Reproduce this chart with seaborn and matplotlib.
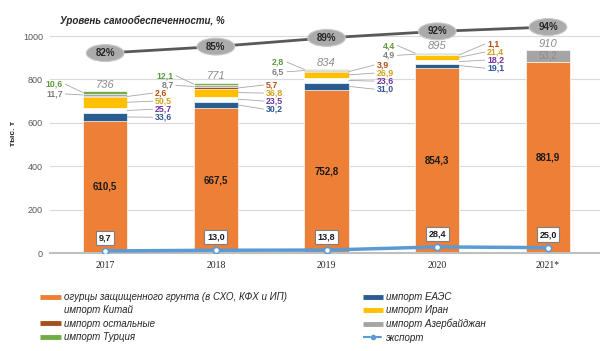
import numpy as np
import matplotlib
matplotlib.use("Agg")
import matplotlib.pyplot as plt
import seaborn as sns
from matplotlib.patches import Ellipse
from matplotlib.lines import Line2D

# ДАННЫЕ, тыс. т
years = ["2017", "2018", "2019", "2020", "2021*"]
ogurtsy = [610.5, 667.5, 752.8, 854.3, 881.9]
imp_eaes = [33.6, 30.2, 31.0, 19.1, 0]
imp_china = [25.7, 23.5, 23.6, 18.2, 0]
imp_iran = [50.5, 36.8, 26.9, 21.4, 0]
imp_other = [2.6, 5.7, 3.9, 1.1, 0]
imp_azerb = [11.7, 8.7, 6.5, 4.9, 53.2]
imp_turkey = [10.6, 12.1, 2.8, 4.4, 0]
totals = [736, 771, 834, 895, 910]
export = [9.7, 13.0, 13.8, 28.4, 25.0]
self_suff = [82, 85, 89, 92, 94]

names = ["огурцы защищенного грунта (в СХО, КФХ и ИП)", "импорт ЕАЭС", "импорт Китай",
         "импорт Иран", "импорт остальные", "импорт Азербайджан", "импорт Турция"]
colors = ["#EE7F36", "#285D90", "#FFFFFF", "#FFC000", "#A5501A", "#A5A5A5", "#70AD47"]
label_colors = [None, "#2F5597", "#7030A0", "#D4A017", "#B0500F", "#7F7F7F", "#5B9B3A"]

layers = np.array([ogurtsy, imp_eaes, imp_china, imp_iran, imp_other, imp_azerb, imp_turkey])
cum = np.cumsum(layers, axis=0)

sns.set_theme(style="white")
plt.rcParams['font.family'] = ['Liberation Sans', 'DejaVu Sans']

fig = plt.figure(figsize=(6, 3.51), dpi=100)
ax = fig.add_axes([0.083, 0.279, 0.917, 0.68])

# столбцы с накоплением: рисуем сверху вниз
for k in reversed(range(len(names))):
    sns.barplot(x=years, y=cum[k], color=colors[k], width=0.4, saturation=1,
                edgecolor="white", linewidth=0.5, ax=ax, zorder=2)

ax.set_ylim(0, 1100)
ax.set_xlim(-0.5, 4.47)
ax.set_yticks(range(0, 1001, 200))
ax.yaxis.grid(True, color="#D9D9D9", lw=0.8)
ax.set_axisbelow(True)
for s in ["top", "right", "left"]:
    ax.spines[s].set_visible(False)
ax.spines["bottom"].set_color("#BFBFBF")
ax.spines["bottom"].set_linewidth(1.5)
ax.tick_params(axis="y", labelsize=6.5, labelcolor="#595959", length=0, pad=5)
ax.tick_params(axis="x", length=0, pad=6)
for t in ax.get_xticklabels():
    t.set_fontfamily("Liberation Serif")
    t.set_fontsize(7)
    t.set_color("#262626")
ax.set_xlabel("")
ax.set_ylabel("тыс. т", fontsize=6, fontweight="bold", labelpad=4)

# экспорт
sns.lineplot(x=np.arange(5), y=export, ax=ax, color="#5B9BD5", lw=2.5, marker="o",
             markersize=4.5, markerfacecolor="white", markeredgecolor="#5B9BD5",
             markeredgewidth=1.2, zorder=5)
for i, v in enumerate(export):
    ax.text(i, v + 60, f"{v:.1f}".replace(".", ","), ha="center", va="center",
            fontsize=6.5, fontweight="bold", color="#1a1a1a", zorder=6,
            bbox=dict(boxstyle="square,pad=0.3", fc="white", ec="#7F7F7F", lw=0.8))

# подписи значений
right_start = [-8, -10, 19, 40]
step = 37
for i in range(5):
    x = i
    top = cum[-1][i]
    ax.text(x, ogurtsy[i] / 2, f"{ogurtsy[i]:.1f}".replace(".", ","), ha="center",
            va="center", fontsize=7, fontweight="bold", color="#1a1a1a", zorder=6)
    ax.text(x, top + 30, str(totals[i]), ha="center", va="center", fontsize=8,
            style="italic", color="#8C8C8C", zorder=6)
    nonzero = [k for k in range(1, 7) if layers[k][i] > 0]
    if len(nonzero) == 1:
        k = nonzero[0]
        ax.text(x, cum[k - 1][i] + layers[k][i] / 2, f"{layers[k][i]:.1f}".replace(".", ","),
                ha="center", va="center", fontsize=7, color="#8C8C8C", zorder=6)
        continue
    # справа: остальные, Иран, Китай, ЕАЭС
    for j, k in enumerate([4, 3, 2, 1]):
        yl = top + right_start[i] - step * j
        mid = cum[k - 1][i] + layers[k][i] / 2
        ax.plot([x + 0.2, x + 0.43], [mid, yl], color="#A6A6A6", lw=0.6, zorder=4)
        ax.text(x + 0.45, yl, f"{layers[k][i]:.1f}".replace(".", ","), ha="left",
                va="center", fontsize=6.3, fontweight="bold", color=label_colors[k], zorder=6)
    # слева: Турция, Азербайджан
    for k, dy in [(6, 33), (5, -12)]:
        yl = top + dy
        mid = cum[k - 1][i] + layers[k][i] / 2
        ax.plot([x - 0.36, x - 0.2], [yl, mid], color="#A6A6A6", lw=0.6, zorder=4)
        ax.text(x - 0.38, yl, f"{layers[k][i]:.1f}".replace(".", ","), ha="right",
                va="center", fontsize=6.3, fontweight="bold", color=label_colors[k], zorder=6)

# уровень самообеспеченности
ax2 = ax.twinx()
ax2.set_ylim(-10.17, 99.83)
ax2.plot(np.arange(5), self_suff, color="#595959", lw=2, zorder=3)
for i, p in enumerate(self_suff):
    ax2.add_patch(Ellipse((i, p), 0.34, 7.8, fc="#ABABAB", ec="#C8C8C8", lw=0.8, zorder=4))
    ax2.text(i, p, f"{p}%", ha="center", va="center", fontsize=7, fontweight="bold",
             color="#262626", zorder=5)
ax2.set_yticks([])
for s in ax2.spines.values():
    s.set_visible(False)
ax2.set_xlim(-0.5, 4.47)

fig.text(0.1, 0.94, "Уровень самообеспеченности, %", fontsize=7, fontweight="bold",
         style="italic", color="#262626", va="center")

# легенда
def h(c):
    return Line2D([0], [0], color=c, lw=3.5, solid_capstyle="butt")

h1 = [h(colors[0]), h("white"), h(colors[4]), h(colors[6])]
l1 = [names[0], names[2], names[4], names[6]]
h2 = [h(colors[1]), h(colors[3]), h(colors[5]),
      Line2D([0], [0], color="#5B9BD5", lw=1.5, marker="o", markersize=3,
             markerfacecolor="#5B9BD5", ls="--")]
l2 = [names[1], names[3], names[5], "экспорт"]
prop = {"style": "italic", "size": 7}
for hs, ls, xa in [(h1, l1, 0.067), (h2, l2, 0.605)]:
    leg = fig.legend(hs, ls, loc="upper left", bbox_to_anchor=(xa, 0.168), frameon=False,
                     prop=prop, borderpad=0, borderaxespad=0, labelspacing=0.35,
                     handlelength=2.1, handletextpad=0.3)
    for t in leg.get_texts():
        t.set_color("#262626")

fig.savefig("out.png", dpi=100)
